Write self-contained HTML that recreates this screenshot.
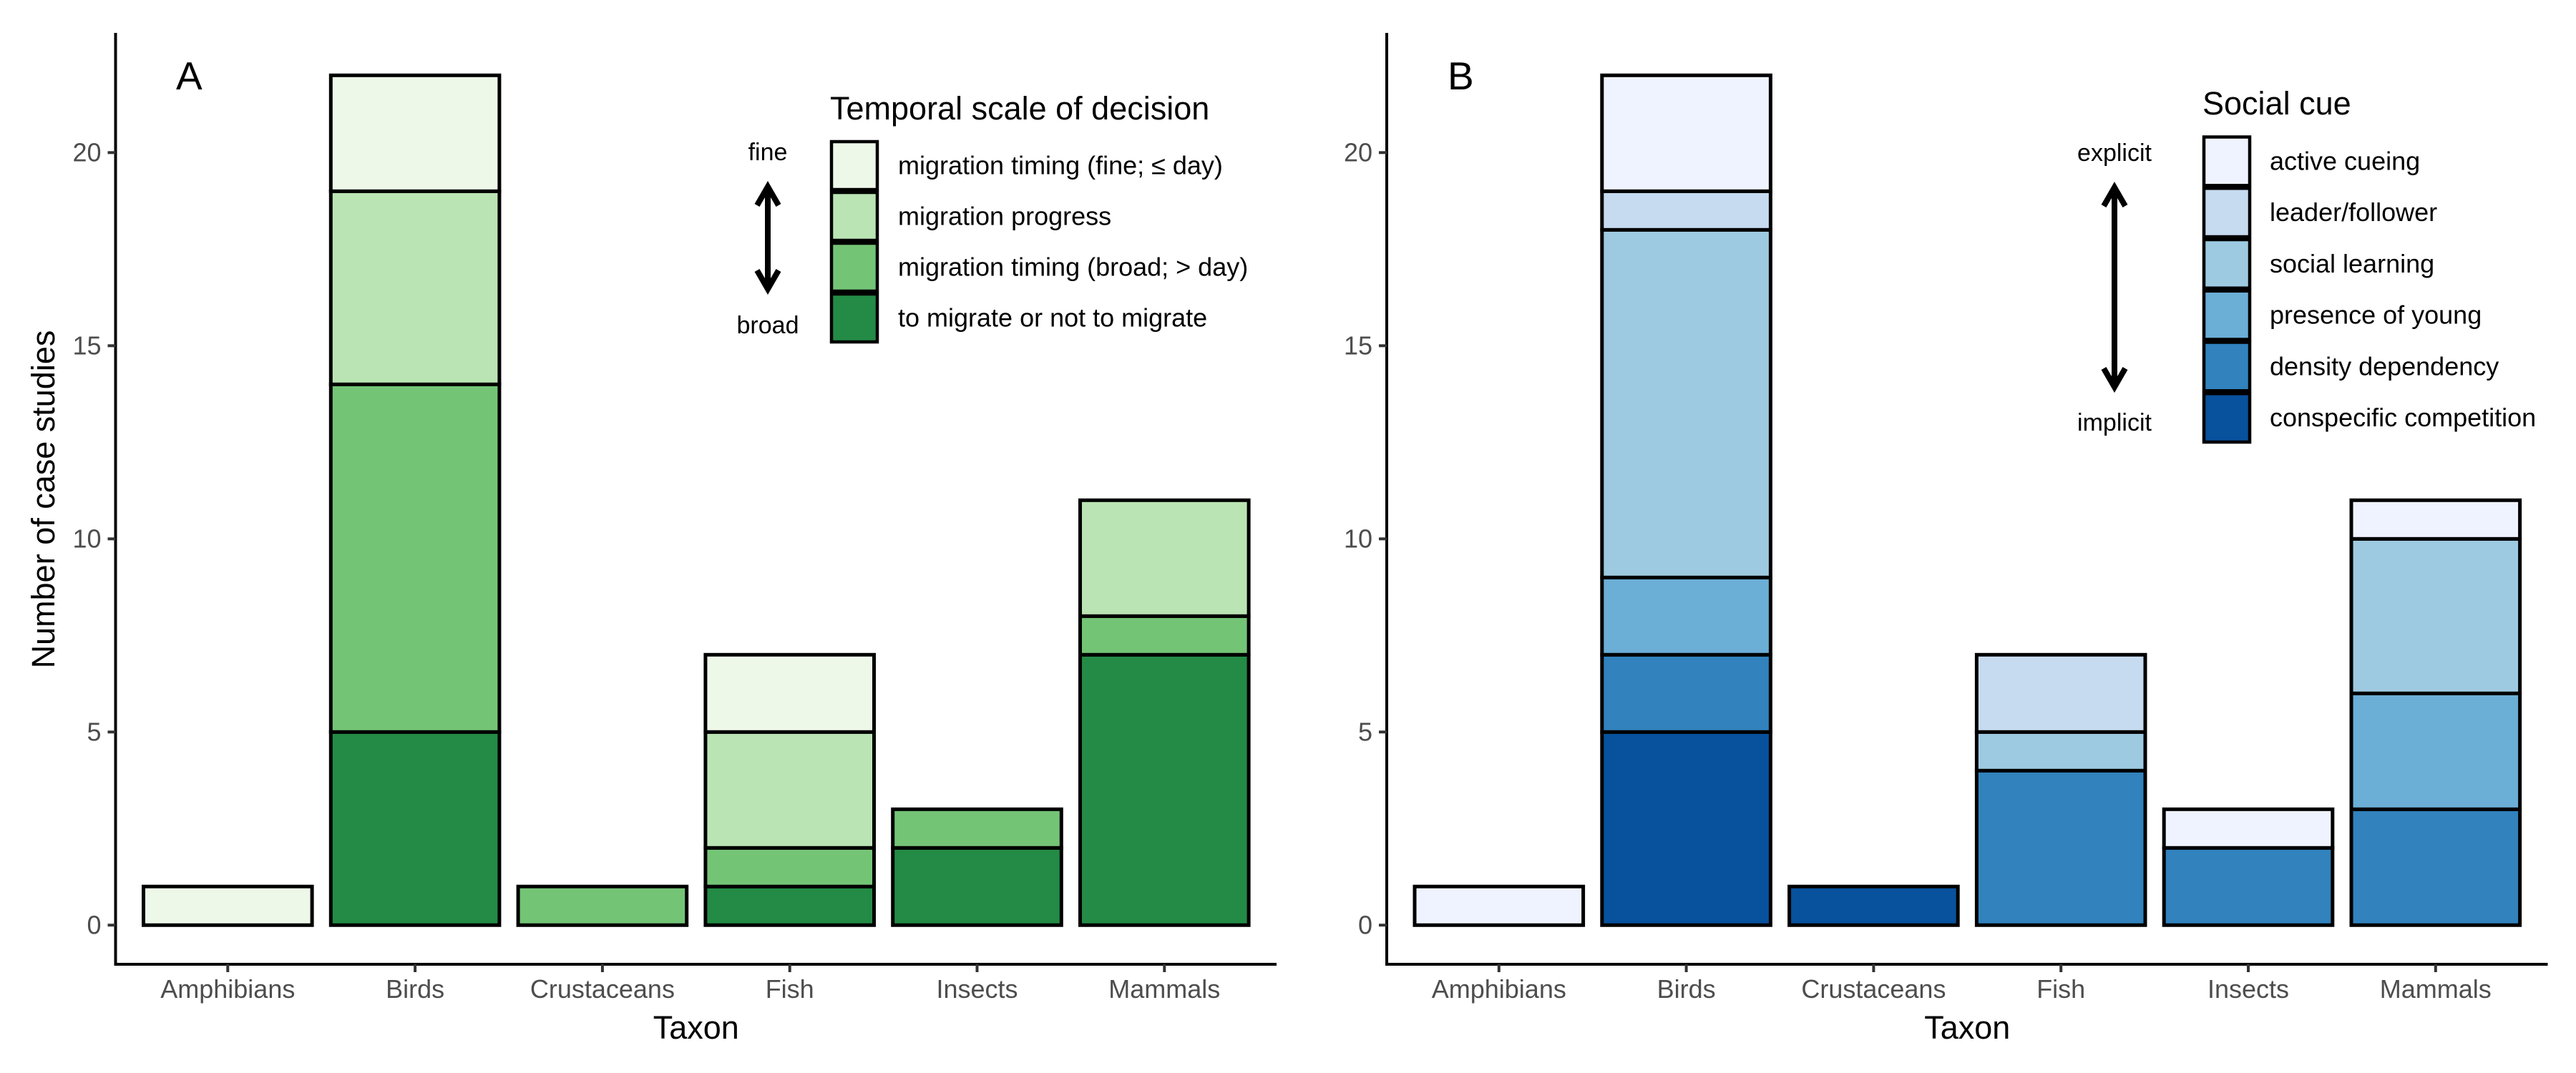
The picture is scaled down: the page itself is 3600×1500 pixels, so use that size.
<!DOCTYPE html>
<html><head><meta charset="utf-8"><style>
html,body{margin:0;padding:0;background:#fff;}
svg{display:block;font-family:"Liberation Sans",Arial,sans-serif;}
</style></head><body>
<svg id="chart" width="3600" height="1500" viewBox="0 0 3600 1500" xmlns="http://www.w3.org/2000/svg"></svg>
<script>
const categories = ["Amphibians","Birds","Crustaceans","Fish","Insects","Mammals"];
const yTicks = [0,5,10,15,20];
// Panel A series (bottom to top)
const aSeries = ["to migrate or not to migrate","migration timing (broad; > day)","migration progress","migration timing (fine; ≤ day)"];
const aColors = ["#238B45","#74C476","#BAE4B3","#EDF8E9"];
const aMigrate = [0,5,0,1,2,7];
const aBroad   = [0,9,1,1,1,1];
const aProgress= [0,5,0,3,0,3];
const aFine    = [1,3,0,2,0,0];
// Panel B series (bottom to top)
const bSeries = ["conspecific competition","density dependency","presence of young","social learning","leader/follower","active cueing"];
const bColors = ["#08519C","#3182BD","#6BAED6","#9ECAE1","#C6DBEF","#EFF3FF"];
const bConsp   = [0,5,1,0,0,0];
const bDensity = [0,2,0,4,2,3];
const bYoung   = [0,2,0,0,0,3];
const bSocial  = [0,9,0,1,0,4];
const bLeader  = [0,1,0,2,0,0];
const bActive  = [1,3,0,0,1,1];

const NS="http://www.w3.org/2000/svg";
const svg=document.getElementById('chart');
function mk(tag,attrs,parent){const e=document.createElementNS(NS,tag);for(const k in attrs)e.setAttribute(k,attrs[k]);(parent||svg).appendChild(e);return e;}

function panel(offX, label, series, colors, values, legendTitle, top, bottom, L){
  const g=mk('g',{});
  
  
  const y0=1293.3, unit=54.0;
  const yS=v=>y0-v*unit;
  const x0=318.3+offX, step=261.8, bw=235.6;
  const xS=i=>x0+i*step;
  const axX=161.5+offX, axR=1784+offX, axY=1348;
  // bars
  categories.forEach((c,i)=>{
    let cum=0;
    values.forEach((arr,s)=>{
      const v=arr[i]; if(!v) return;
      const r=mk('rect',{x:xS(i)-bw/2,y:yS(cum+v),width:bw,height:v*unit,fill:colors[s],stroke:'#000','stroke-width':5},g);
      
      
      cum+=v;
    });
  });
  // axes
  const ya=mk('line',{x1:axX,y1:46,x2:axX,y2:axY+2,stroke:'#000','stroke-width':4},g);
  
  
  const xa=mk('line',{x1:axX-2,y1:axY,x2:axR,y2:axY,stroke:'#000','stroke-width':4},g);
  
  
  yTicks.forEach(t=>{
    mk('line',{x1:axX-11,y1:yS(t),x2:axX,y2:yS(t),stroke:'#333','stroke-width':4},g);
    const tx=mk('text',{x:axX-20,y:yS(t)+12,'text-anchor':'end','font-size':36,fill:'#4d4d4d'},g);
    tx.textContent=t;
    
    
  });
  categories.forEach((c,i)=>{
    mk('line',{x1:xS(i),y1:axY,x2:xS(i),y2:axY+11,stroke:'#333','stroke-width':4},g);
    const tx=mk('text',{x:xS(i),y:1395,'text-anchor':'middle','font-size':36,fill:'#4d4d4d'},g);
    tx.textContent=c;
    
    
  });
  const xt=mk('text',{x:(axX+axR)/2,y:1452,'text-anchor':'middle','font-size':45,fill:'#000'},g);
  xt.textContent='Taxon';
  
  
  const pl=mk('text',{x:L.lx,y:125,'font-size':55,fill:'#000'},g);
  pl.textContent=label;
  
  
  // legend
  const lt=mk('text',{x:L.bx,y:L.ty,'font-size':45,fill:'#000'},g);
  lt.textContent=legendTitle;
  
  
  const n=series.length;
  for(let k=0;k<n;k++){
    const s=n-1-k;
    const by=L.by+k*L.pitch;
    const r=mk('rect',{x:L.bx+2,y:by+2,width:64,height:L.pitch-4,fill:colors[s],stroke:'#000','stroke-width':4.5},g);
    
    
    const t=mk('text',{x:L.tx,y:by+L.pitch/2+12,'font-size':36,fill:'#000'},g);
    t.textContent=series[s];
    
    
  }
  const t1=mk('text',{x:L.ax,y:L.topY,'text-anchor':'middle','font-size':34,fill:'#000'},g);
  t1.textContent=top;
  
  
  const t2=mk('text',{x:L.ax,y:L.botY,'text-anchor':'middle','font-size':34,fill:'#000'},g);
  t2.textContent=bottom;
  
  
  const ar=mk('g',{},g);
  
  
  mk('line',{x1:L.ax,y1:L.a1+10,x2:L.ax,y2:L.a2-10,stroke:'#000','stroke-width':8},ar);
  mk('polyline',{points:`${L.ax-15},${L.a1+30} ${L.ax},${L.a1+4} ${L.ax+15},${L.a1+30}`,fill:'none',stroke:'#000','stroke-width':8},ar);
  mk('polyline',{points:`${L.ax-15},${L.a2-30} ${L.ax},${L.a2-4} ${L.ax+15},${L.a2-30}`,fill:'none',stroke:'#000','stroke-width':8},ar);
}
panel(0,'A',aSeries,aColors,[aMigrate,aBroad,aProgress,aFine],'Temporal scale of decision','fine','broad',
 {lx:246,bx:1160,ty:167,by:196,pitch:71,tx:1255,ax:1073,topY:224,botY:466,a1:257,a2:408});
panel(1776.5,'B',bSeries,bColors,[bConsp,bDensity,bYoung,bSocial,bLeader,bActive],'Social cue','explicit','implicit',
 {lx:2023,bx:3078,ty:160,by:189.5,pitch:71.75,tx:3172,ax:2955,topY:225,botY:602,a1:258,a2:545});
const yt=mk('text',{x:0,y:0,'text-anchor':'middle','font-size':45,fill:'#000',transform:'translate(76,698) rotate(-90)'});
yt.textContent='Number of case studies';


</script>
</body></html>
